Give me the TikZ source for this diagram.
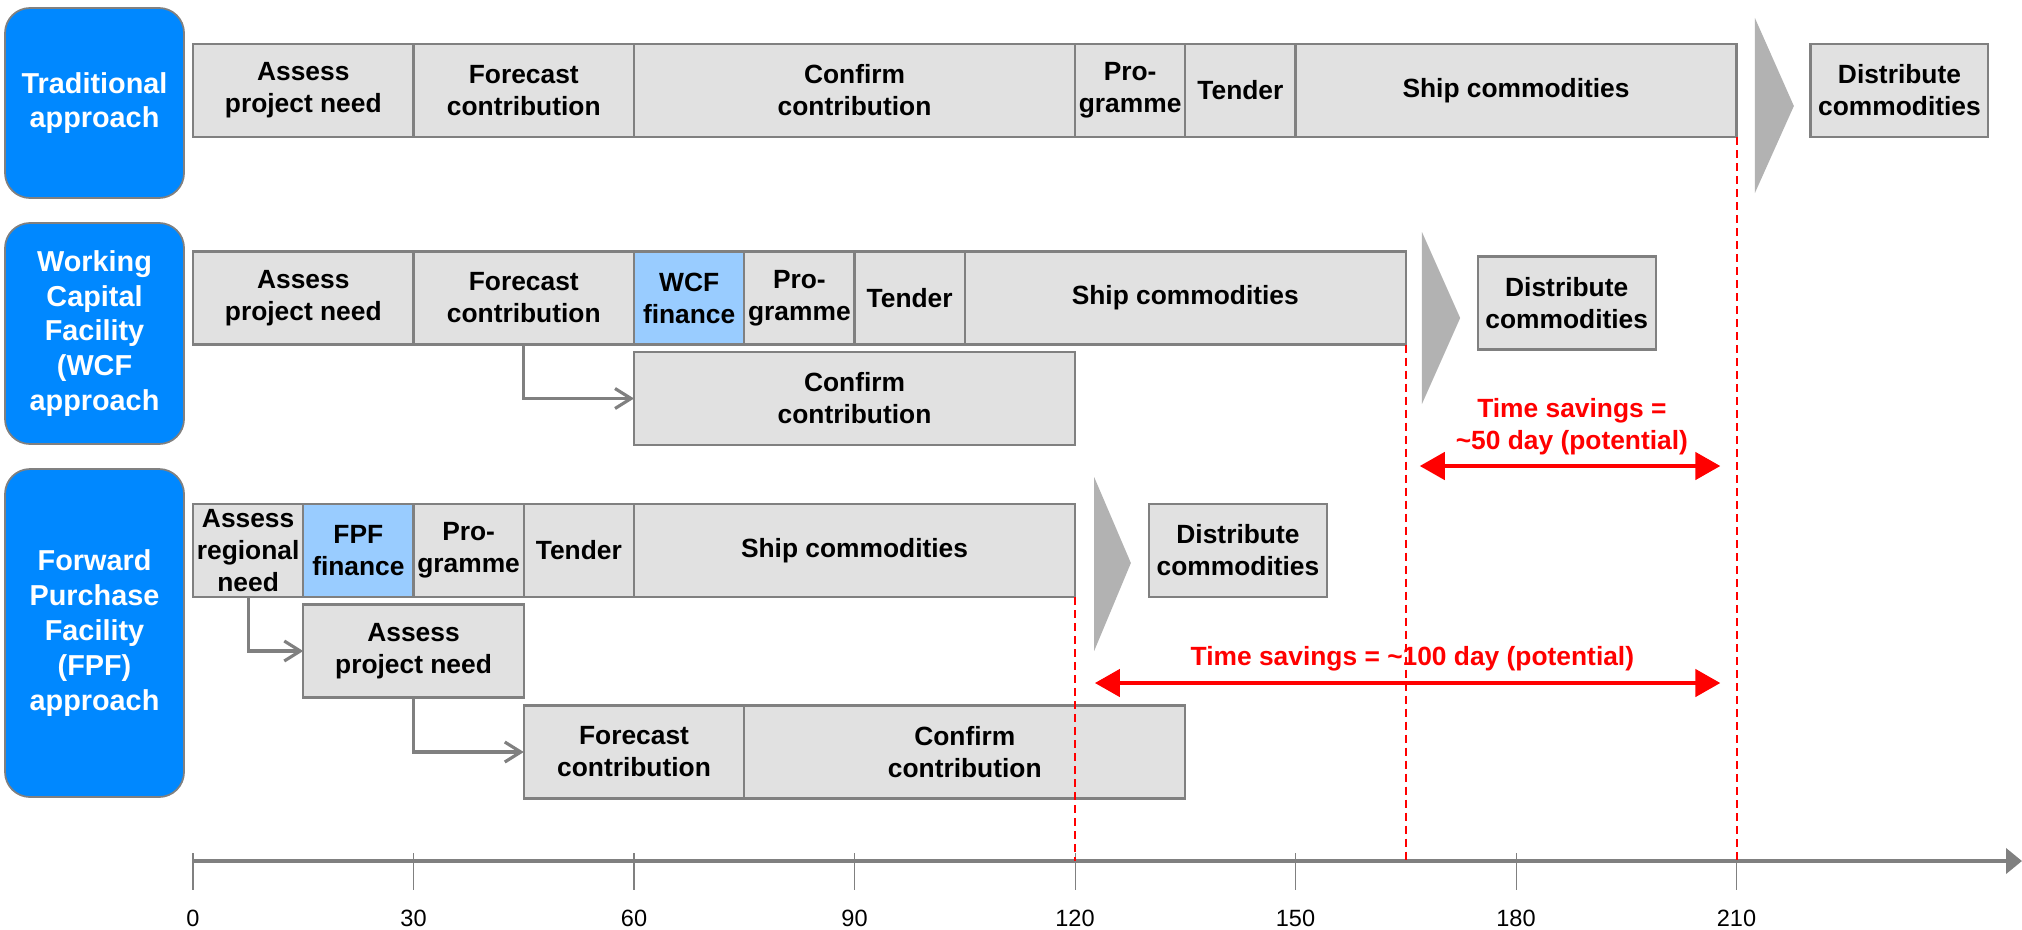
\documentclass[tikz,border=0pt]{standalone}
\usepackage{fontspec}
\setmainfont{Liberation Sans}
\usetikzlibrary{arrows.meta, positioning}

\definecolor{appblue}{HTML}{0088FF}
\definecolor{finblue}{HTML}{99CCFF}
\definecolor{boxgray}{HTML}{E1E1E1}
\definecolor{linegray}{HTML}{808080}
\definecolor{chevgray}{HTML}{B2B2B2}

\newcommand\taskfont{\fontsize{7.5}{9.1}\selectfont\bfseries}
\newcommand\appfont{\fontsize{8.2}{9.9}\selectfont\bfseries}
\newcommand\dayfont{\fontsize{6.7}{7.5}\selectfont}

\begin{document}
\begin{tikzpicture}[
x=0.735mm, y=-0.1mm,
     base/.style = {draw=linegray, line width=0.6pt, align=center,
                    inner sep=0pt, outer sep=0pt, minimum height=9.3mm},
     task/.style = {base, fill=boxgray, font=\taskfont, anchor=west,
                    minimum width=#1*0.735mm},
  finance/.style = {task=#1, fill=finblue},
 approach/.style = {draw=linegray, line width=0.5pt, fill=appblue, text=white,
                    rounded corners=2.5mm, font=\appfont, align=center,
                    inner sep=0pt, minimum width=17.9mm},
  chevron/.style = {fill=chevgray},
     link/.style = {draw=linegray, line width=0.9pt,
                    -{Straight Barb[length=1.6mm, width=2mm]}},
      gap/.style = {red, line width=0.2mm, dash pattern=on 0.8mm off 0.5mm},
   saving/.style = {red, line width=0.45mm,
                    {Triangle[length=2.5mm, width=2.7mm]}-{Triangle[length=2.5mm, width=2.7mm]}},
     note/.style = {text=red, font=\taskfont, align=center, inner sep=0pt},
     axis/.style = {draw=linegray, line width=0.4mm,
                    -{Triangle[length=1.6mm, width=2.5mm]}}
                    ]
\useasboundingbox (-26.26,0) rectangle (248.84,929);

% approaches
\node (trad) [approach, minimum height=19mm]   at (-13.4,103)   {Traditional\\approach};
\node (wcf)  [approach, minimum height=22.1mm] at (-13.4,333.5) {Working\\Capital\\Facility\\(WCF\\approach};
\node (fpf)  [approach, minimum height=32.8mm] at (-13.4,633)   {Forward\\Purchase\\Facility\\(FPF)\\approach};

% traditional
\node (tAssess)   [task=30] at (0,90.5)                  {Assess\\project need};
\node (tForecast) [task=30, right=0pt of tAssess]        {Forecast\\contribution};
\node (tConfirm)  [task=60, right=0pt of tForecast]      {Confirm\\contribution};
\node (tProg)     [task=15, right=0pt of tConfirm]       {Pro-\\gramme};
\node (tTender)   [task=15, right=0pt of tProg]          {Tender};
\node (tShip)     [task=60, right=0pt of tTender]        {Ship commodities};
\node (tDist)     [task=24.2, right=7.4mm of tShip]      {Distribute\\commodities};
\fill[chevron] (212.5,18) -- (217.8,106) -- (212.5,193) -- cycle;

% WCF
\node (wAssess)   [task=30] at (0,298)                   {Assess\\project need};
\node (wForecast) [task=30, right=0pt of wAssess]        {Forecast\\contribution};
\node (wFin)      [finance=15, right=0pt of wForecast]   {WCF\\finance};
\node (wProg)     [task=15, right=0pt of wFin]           {Pro-\\gramme};
\node (wTender)   [task=15, right=0pt of wProg]          {Tender};
\node (wShip)     [task=60, right=0pt of wTender]        {Ship commodities};
\node (wDist)     [task=24.2, right=7.2mm of wShip, yshift=-0.5mm] {Distribute\\commodities};
\node (wConfirm)  [task=60] at (60,398.5)                {Confirm\\contribution};
\fill[chevron] (167.2,232) -- (172.4,318) -- (167.2,404) -- cycle;
\draw[link] (wForecast.south) |- (wConfirm.west);

% FPF
\node (fReg)      [task=15] at (0,550.5)                 {Assess\\regional\\need};
\node (fFin)      [finance=15, right=0pt of fReg]        {FPF\\finance};
\node (fProg)     [task=15, right=0pt of fFin]           {Pro-\\gramme};
\node (fTender)   [task=15, right=0pt of fProg]          {Tender};
\node (fShip)     [task=60, right=0pt of fTender]        {Ship commodities};
\node (fDist)     [task=24.2, right=7.4mm of fShip]      {Distribute\\commodities};
\node (fAssess)   [task=30] at (15,651)                  {Assess\\project need};
\node (fForecast) [task=30] at (45,752)                  {Forecast\\contribution};
\node (fConfirm)  [task=60, right=0pt of fForecast]      {Confirm\\contribution};
\fill[chevron] (122.6,477) -- (127.6,563) -- (122.6,651) -- cycle;
\draw[link] (fReg.south) |- (fAssess.west);
\draw[link] (fAssess.south) |- (fForecast.west);

% time axis
\coordinate (axisL) at (0,861);
\coordinate (axisR) at (248.84,861);
\foreach \t in {0,30,...,210}{
  \draw[linegray, line width=0.3pt] (\t,853) -- (\t,890);
  \node[font=\dayfont] at (\t,918) {\t};
}
\draw[axis] (axisL) -- (axisR);

% savings
\draw[gap] (tShip.south east) -- (tShip.south east |- axisL);
\draw[gap] (wShip.south east) -- (wShip.south east |- axisL);
\draw[gap] (fShip.south east) -- (fShip.south east |- axisL);

\coordinate (s50a)  at (166.9,466);
\coordinate (s50b)  at (207.8,466);
\coordinate (s100a) at (122.7,683);
\coordinate (s100b) at (207.8,683);
\node (s50txt)  [note] at (187.6,427) {Time savings =\\\textasciitilde50 day (potential)};
\node (s100txt) [note] at (165.9,659) {Time savings = \textasciitilde100 day (potential)};
\draw[saving] (s50a) -- (s50b);
\draw[saving] (s100a) -- (s100b);
\end{tikzpicture}
\end{document}
